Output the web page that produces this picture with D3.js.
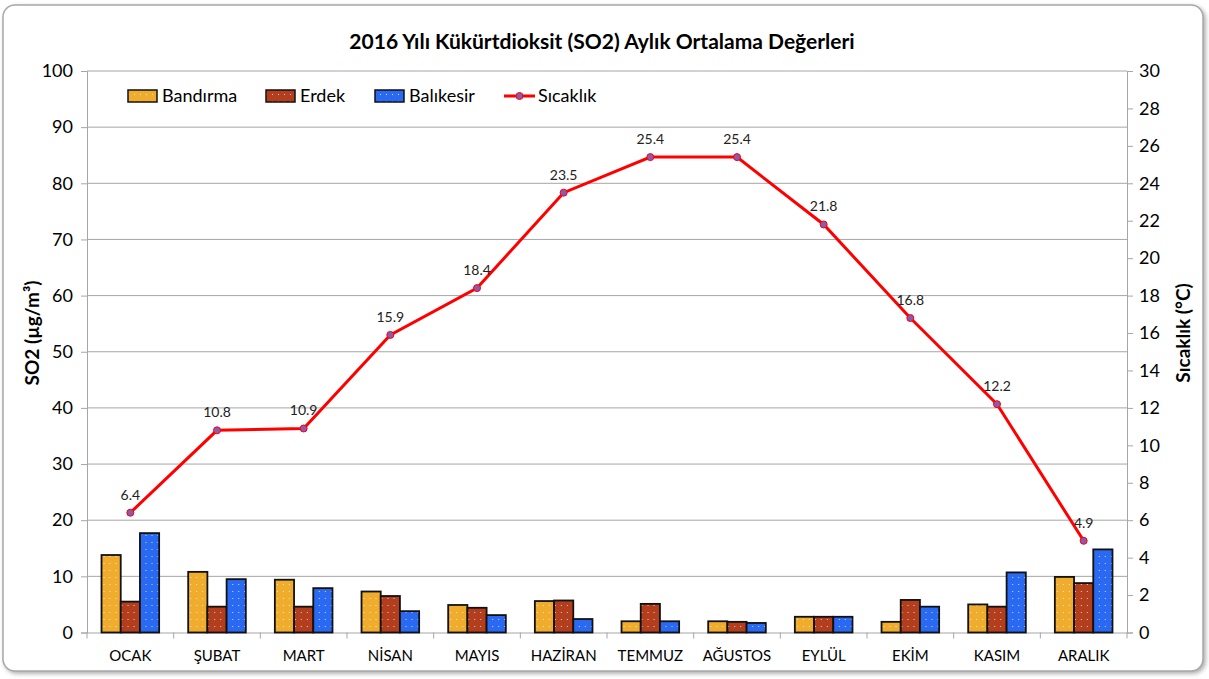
<!DOCTYPE html>
<html>
<head>
<meta charset="utf-8">
<script src="https://cdn.jsdelivr.net/npm/d3@7"></script>
<style>
  body { margin: 0; background: #fff; }
  svg { font-family: Lato, "Open Sans", sans-serif; }
</style>
</head>
<body>
<svg id="chart" width="1209" height="679"></svg>
<script>
var months = ['OCAK', 'ŞUBAT', 'MART', 'NİSAN', 'MAYIS', 'HAZİRAN', 'TEMMUZ', 'AĞUSTOS', 'EYLÜL', 'EKİM', 'KASIM', 'ARALIK'];
var stations = ['Bandırma', 'Erdek', 'Balıkesir'];
var bandirma = [13.8, 10.8, 9.4, 7.3, 4.9, 5.6, 2.0, 2.0, 2.8, 1.9, 5.0, 9.9];
var erdek = [5.5, 4.6, 4.6, 6.5, 4.4, 5.7, 5.1, 1.9, 2.8, 5.8, 4.6, 8.8];
var balikesir = [17.7, 9.5, 7.9, 3.8, 3.1, 2.4, 2.0, 1.7, 2.8, 4.6, 10.7, 14.8];
var sicaklik = [6.4, 10.8, 10.9, 15.9, 18.4, 23.5, 25.4, 25.4, 21.8, 16.8, 12.2, 4.9];
var leftTicks = d3.range(0, 101, 10);
var rightTicks = d3.range(0, 31, 2);

var colors = {'Bandırma': '#f0ac2c', 'Erdek': '#b33e1e', 'Balıkesir': '#2a6af2'};

var rows = months.map(function (m, i) {
    return {month: m, values: [bandirma[i], erdek[i], balikesir[i]], temp: sicaklik[i]};
});

var svg = d3.select('#chart');
var plotLeft = 87, plotRight = 1127, plotTop = 71, plotBottom = 632.5;

// frame with shadow
var defs = svg.append('defs');
var f = defs.append('filter').attr('id', 'sh').attr('x', '-5%').attr('y', '-5%').attr('width', '110%').attr('height', '110%');
f.append('feDropShadow').attr('dx', 2).attr('dy', 2).attr('stdDeviation', 2).attr('flood-color', '#999').attr('flood-opacity', 0.8);

stations.forEach(function (s, i) {
    var p = defs.append('pattern').attr('id', 'pat' + i)
        .attr('patternUnits', 'userSpaceOnUse').attr('width', 6).attr('height', 7);
    p.append('rect').attr('width', 6).attr('height', 7).attr('fill', colors[s]);
    p.append('rect').attr('x', 2).attr('y', 3).attr('width', 1).attr('height', 1).attr('fill', '#fff').attr('opacity', 0.75);
});

svg.append('rect')
    .attr('x', 3).attr('y', 5).attr('width', 1200).attr('height', 666)
    .attr('rx', 12).attr('ry', 12)
    .attr('fill', '#fff').attr('stroke', '#a8a8a8').attr('stroke-width', 1.5)
    .attr('filter', 'url(#sh)');

var x = d3.scaleBand().domain(months).range([plotLeft, plotRight]);
var xInner = d3.scaleBand().domain(stations).range([0, x.bandwidth() * 0.665]);
var yL = d3.scaleLinear().domain([0, 100]).range([plotBottom, plotTop]);
var yR = d3.scaleLinear().domain([0, 30]).range([plotBottom, plotTop]);

// grid
svg.append('g').selectAll('line')
    .data(leftTicks.slice(1))
    .enter().append('line')
    .attr('x1', plotLeft).attr('x2', plotRight)
    .attr('y1', d => yL(d)).attr('y2', d => yL(d))
    .attr('stroke', '#a6a6a6').attr('stroke-width', 1);

// left axis
var ga = svg.append('g')
    .attr('transform', 'translate(' + plotLeft + ',0)')
    .call(d3.axisLeft(yL).tickValues(leftTicks).tickSize(6).tickPadding(8));
ga.attr('font-family', null);
ga.select('.domain').attr('stroke', '#a6a6a6');
ga.selectAll('.tick line').attr('stroke', '#a6a6a6');
ga.selectAll('text').style('font-size', '18px').attr('fill', '#000');

// right axis
var gr = svg.append('g')
    .attr('transform', 'translate(' + plotRight + ',0)')
    .call(d3.axisRight(yR).tickValues(rightTicks).tickSize(6).tickPadding(6));
gr.attr('font-family', null);
gr.select('.domain').attr('stroke', '#a6a6a6');
gr.selectAll('.tick line').attr('stroke', '#a6a6a6');
gr.selectAll('text').style('font-size', '18px').attr('fill', '#000');

// bottom axis
var gb = svg.append('g')
    .attr('transform', 'translate(0,' + plotBottom + ')')
    .call(d3.axisBottom(x).tickSize(0).tickPadding(18));
gb.attr('font-family', null);
gb.select('.domain').attr('stroke', '#a6a6a6');
gb.selectAll('text').style('font-size', '15px').attr('fill', '#000');
svg.append('g').selectAll('line')
    .data(months.concat(['end']))
    .enter().append('line')
    .attr('x1', (d, i) => plotLeft + i * x.step()).attr('x2', (d, i) => plotLeft + i * x.step())
    .attr('y1', plotBottom).attr('y2', plotBottom + 6)
    .attr('stroke', '#a6a6a6');

// bars
var groups = svg.append('g').selectAll('g')
    .data(rows)
    .enter().append('g')
    .attr('transform', d => 'translate(' + (x(d.month) + x.bandwidth() * 0.1675) + ',0)');

groups.selectAll('rect')
    .data(d => d.values.map((v, i) => ({station: stations[i], v: v, i: i})))
    .enter().append('rect')
    .attr('x', d => xInner(d.station))
    .attr('y', d => yL(d.v))
    .attr('width', xInner.bandwidth())
    .attr('height', d => yL(0) - yL(d.v))
    .attr('fill', d => 'url(#pat' + d.i + ')')
    .attr('stroke', '#111').attr('stroke-width', 1.8);

// temperature line
var line = d3.line()
    .x(d => x(d.month) + x.bandwidth() / 2)
    .y(d => yR(d.temp));

svg.append('path')
    .datum(rows)
    .attr('d', line)
    .attr('fill', 'none')
    .attr('stroke', '#ff0000')
    .attr('stroke-width', 3);

svg.append('g').selectAll('circle')
    .data(rows)
    .enter().append('circle')
    .attr('cx', d => x(d.month) + x.bandwidth() / 2)
    .attr('cy', d => yR(d.temp))
    .attr('r', 3.5)
    .attr('fill', '#8a5ab0').attr('stroke', '#ff0000').attr('stroke-width', 1);

svg.append('g').selectAll('text')
    .data(rows)
    .enter().append('text')
    .attr('x', d => x(d.month) + x.bandwidth() / 2)
    .attr('y', d => yR(d.temp) - 13)
    .attr('text-anchor', 'middle')
    .style('font-size', '14px')
    .attr('fill', '#222')
    .text(d => d.temp.toFixed(1));

// title
svg.append('text')
    .attr('x', 602).attr('y', 49)
    .attr('text-anchor', 'middle')
    .style('font-size', '21px').style('font-weight', 'bold')
    .text('2016 Yılı Kükürtdioksit (SO2) Aylık Ortalama Değerleri');

// axis titles
svg.append('text')
    .attr('transform', 'translate(39,333) rotate(-90)')
    .attr('text-anchor', 'middle')
    .style('font-size', '19px').style('font-weight', 'bold')
    .text('SO2 (µg/m³)');

svg.append('text')
    .attr('transform', 'translate(1190,333) rotate(-90)')
    .attr('text-anchor', 'middle')
    .style('font-size', '19px').style('font-weight', 'bold')
    .text('Sıcaklık (°C)');

// legend
var legendX = [128, 266, 375];
var lg = svg.append('g');
stations.forEach(function (s, i) {
    lg.append('rect')
        .attr('x', legendX[i]).attr('y', 90)
        .attr('width', 29).attr('height', 12)
        .attr('fill', 'url(#pat' + i + ')')
        .attr('stroke', '#111').attr('stroke-width', 1.5);
    lg.append('text')
        .attr('x', legendX[i] + 34).attr('y', 102)
        .style('font-size', '18px')
        .text(s);
});
lg.append('line')
    .attr('x1', 504).attr('x2', 535).attr('y1', 96).attr('y2', 96)
    .attr('stroke', '#ff0000').attr('stroke-width', 3);
lg.append('circle')
    .attr('cx', 519.5).attr('cy', 96).attr('r', 3.5)
    .attr('fill', '#8a5ab0').attr('stroke', '#ff0000');
lg.append('text')
    .attr('x', 538).attr('y', 102)
    .style('font-size', '18px')
    .text('Sıcaklık');
</script>
</body>
</html>
